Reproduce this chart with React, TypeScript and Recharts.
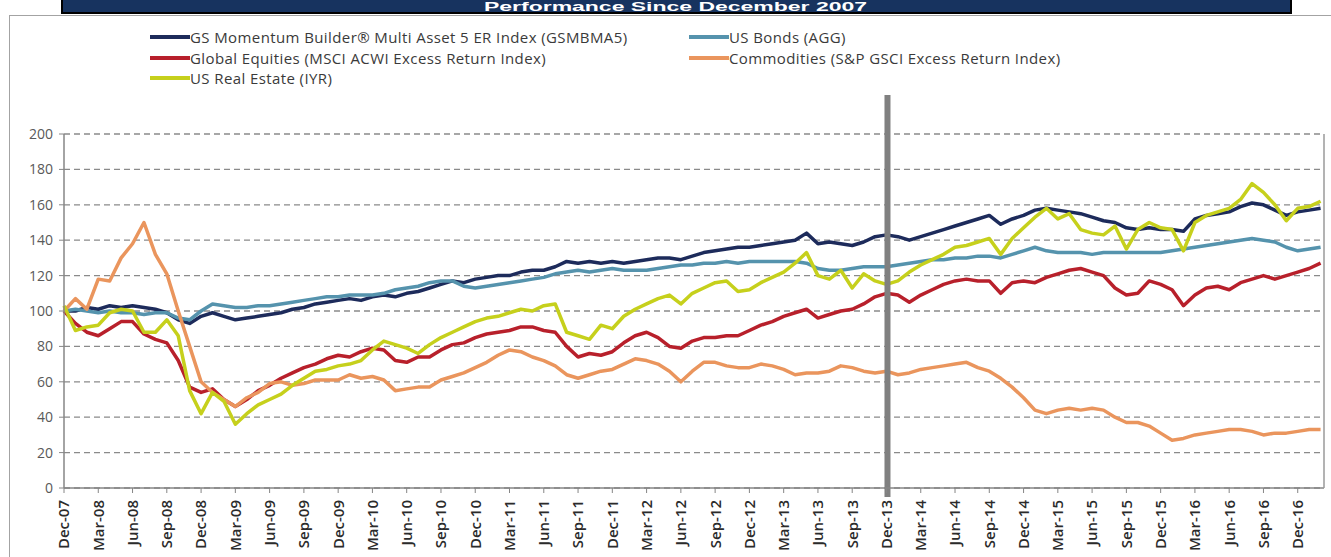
import { CartesianGrid, Legend, Line, LineChart, ReferenceLine, XAxis, YAxis } from 'recharts'

// monthly closes, Dec-07 .. Feb-17 (index = months since Dec-07)
const gsmbma5 = [
  100, 100, 102, 101, 103, 102, 103, 102, 101, 99,
  95, 93, 97, 99, 97, 95, 96, 97, 98, 99,
  101, 102, 104, 105, 106, 107, 106, 108, 109, 108,
  110, 111, 113, 115, 117, 116, 118, 119, 120, 120,
  122, 123, 123, 125, 128, 127, 128, 127, 128, 127,
  128, 129, 130, 130, 129, 131, 133, 134, 135, 136,
  136, 137, 138, 139, 140, 144, 138, 139, 138, 137,
  139, 142, 143, 142, 140, 142, 144, 146, 148, 150,
  152, 154, 149, 152, 154, 157, 158, 157, 156, 155,
  153, 151, 150, 147, 146, 147, 146, 146, 145, 152,
  154, 155, 156, 159, 161, 160, 157, 154, 156, 157, 158,
]

const usBonds = [
  100, 101, 100, 99, 100, 99, 99, 98, 99, 99,
  96, 95, 100, 104, 103, 102, 102, 103, 103, 104,
  105, 106, 107, 108, 108, 109, 109, 109, 110, 112,
  113, 114, 116, 117, 117, 114, 113, 114, 115, 116,
  117, 118, 119, 121, 122, 123, 122, 123, 124, 123,
  123, 123, 124, 125, 126, 126, 127, 127, 128, 127,
  128, 128, 128, 128, 128, 127, 124, 123, 123, 124,
  125, 125, 125, 126, 127, 128, 129, 129, 130, 130,
  131, 131, 130, 132, 134, 136, 134, 133, 133, 133,
  132, 133, 133, 133, 133, 133, 133, 134, 135, 136,
  137, 138, 139, 140, 141, 140, 139, 136, 134, 135, 136,
]

const globalEquities = [
  100, 93, 88, 86, 90, 94, 94, 87, 84, 82,
  72, 57, 54, 56, 50, 46, 50, 55, 58, 62,
  65, 68, 70, 73, 75, 74, 77, 79, 78, 72,
  71, 74, 74, 78, 81, 82, 85, 87, 88, 89,
  91, 91, 89, 88, 80, 74, 76, 75, 77, 82,
  86, 88, 85, 80, 79, 83, 85, 85, 86, 86,
  89, 92, 94, 97, 99, 101, 96, 98, 100, 101,
  104, 108, 110, 109, 105, 109, 112, 115, 117, 118,
  117, 117, 110, 116, 117, 116, 119, 121, 123, 124,
  122, 120, 113, 109, 110, 117, 115, 112, 103, 109,
  113, 114, 112, 116, 118, 120, 118, 120, 122, 124, 127,
]

const commodities = [
  100, 107, 101, 118, 117, 130, 138, 150, 132, 121,
  100, 80, 60, 54, 50, 46, 51, 54, 59, 60,
  58, 59, 61, 61, 61, 64, 62, 63, 61, 55,
  56, 57, 57, 61, 63, 65, 68, 71, 75, 78,
  77, 74, 72, 69, 64, 62, 64, 66, 67, 70,
  73, 72, 70, 66, 60, 66, 71, 71, 69, 68,
  68, 70, 69, 67, 64, 65, 65, 66, 69, 68,
  66, 65, 66, 64, 65, 67, 68, 69, 70, 71,
  68, 66, 62, 57, 51, 44, 42, 44, 45, 44,
  45, 44, 40, 37, 37, 35, 31, 27, 28, 30,
  31, 32, 33, 33, 32, 30, 31, 31, 32, 33, 33,
]

const usRealEstate = [
  103, 89, 91, 92, 99, 101, 100, 88, 88, 95,
  86, 55, 42, 54, 49, 36, 42, 47, 50, 53,
  58, 62, 66, 67, 69, 70, 72, 78, 83, 81,
  79, 76, 81, 85, 88, 91, 94, 96, 97, 99,
  101, 100, 103, 104, 88, 86, 84, 92, 90, 97,
  101, 104, 107, 109, 104, 110, 113, 116, 117, 111,
  112, 116, 119, 122, 127, 133, 120, 118, 123, 113,
  121, 117, 115, 117, 122, 126, 129, 132, 136, 137,
  139, 141, 132, 141, 147, 153, 158, 152, 155, 146,
  144, 143, 148, 135, 146, 150, 147, 146, 134, 150,
  154, 156, 158, 163, 172, 167, 160, 151, 158, 159, 162,
]

const tickLabels = [
  'Dec-07', 'Mar-08', 'Jun-08', 'Sep-08', 'Dec-08', 'Mar-09', 'Jun-09', 'Sep-09',
  'Dec-09', 'Mar-10', 'Jun-10', 'Sep-10', 'Dec-10', 'Mar-11', 'Jun-11', 'Sep-11',
  'Dec-11', 'Mar-12', 'Jun-12', 'Sep-12', 'Dec-12', 'Mar-13', 'Jun-13', 'Sep-13',
  'Dec-13', 'Mar-14', 'Jun-14', 'Sep-14', 'Dec-14', 'Mar-15', 'Jun-15', 'Sep-15',
  'Dec-15', 'Mar-16', 'Jun-16', 'Sep-16', 'Dec-16',
]

const yTicks = [0, 20, 40, 60, 80, 100, 120, 140, 160, 180, 200]

const SERIES = [
  { key: 'gs', name: 'GS Momentum Builder® Multi Asset 5 ER Index (GSMBMA5)', color: '#1d2b5b' },
  { key: 'bonds', name: 'US Bonds (AGG)', color: '#5593ad' },
  { key: 'eq', name: 'Global Equities (MSCI ACWI Excess Return Index)', color: '#b8202b' },
  { key: 'cmd', name: 'Commodities (S&P GSCI Excess Return Index)', color: '#ea955d' },
  { key: 're', name: 'US Real Estate (IYR)', color: '#c6d01c' },
]

const data = gsmbma5.map((v, i) => ({
  m: i,
  gs: v,
  bonds: usBonds[i],
  eq: globalEquities[i],
  cmd: commodities[i],
  re: usRealEstate[i],
}))

const xTicks = tickLabels.map((_, i) => i * 3)
const DIVIDER_MONTH = 72 // Dec-13

function XTick({ x, y, payload }: any) {
  const ty = y + 5
  return (
    <text
      x={x}
      y={ty}
      transform={`rotate(-90 ${x} ${ty})`}
      textAnchor="end"
      dy="0.36em"
      fontSize={15}
      fontWeight={600}
      fill="#2b2b2b"
    >
      {tickLabels[Math.round(payload.value / 3)]}
    </text>
  )
}

function LegendBox() {
  return (
    <div style={{ position: 'relative', width: 1331, height: 100 }}>
      {SERIES.map((s, i) => {
        const left = i % 2 === 0 ? 150 : 689
        const top = 27 + Math.floor(i / 2) * 20.5
        return (
          <div
            key={s.key}
            style={{
              position: 'absolute',
              left,
              top,
              height: 20,
              display: 'flex',
              alignItems: 'center',
              whiteSpace: 'nowrap',
            }}
          >
            <span style={{ display: 'inline-block', width: 40, height: 4, background: s.color }} />
            <span style={{ fontSize: 15, letterSpacing: 0.4, color: '#3a3a3a' }}>{s.name}</span>
          </div>
        )
      })}
    </div>
  )
}

function Divider(p: any) {
  return <rect x={p.x1 - 2} y={95} width={6} height={402} fill="#808080" />
}

export default function App() {
  return (
    <div
      style={{
        position: 'absolute',
        left: 0,
        top: 0,
        width: 1331,
        height: 557,
        overflow: 'hidden',
        background: '#fff',
        fontFamily: '"Open Sans", sans-serif',
      }}
    >
      <div
        style={{
          position: 'absolute',
          left: 9,
          top: 15,
          width: 1400,
          height: 600,
          borderTop: '1.5px solid #a3a3a3',
          borderLeft: '1.5px solid #a3a3a3',
        }}
      />
      <svg width={1331} height={16} style={{ position: 'absolute', left: 0, top: 0 }}>
        <rect x={62} y={-4} width={1229} height={17} fill="#17335f" stroke="#000" strokeWidth={2} />
        <text
          x={484}
          y={11}
          textLength={383}
          lengthAdjust="spacingAndGlyphs"
          fill="#fff"
          fontSize={13}
          fontWeight={700}
          fontFamily='"Liberation Sans", Arial, sans-serif'
        >
          Performance Since December 2007
        </text>
      </svg>
      <div style={{ position: 'absolute', left: 0, top: 0 }}>
        <LineChart width={1331} height={557} data={data} margin={{ top: 134, right: 0, bottom: 9, left: 8 }}>
          <CartesianGrid vertical={false} stroke="#8a8a8a" strokeDasharray="6 4" strokeWidth={1.3} />
          <XAxis
            dataKey="m"
            type="number"
            domain={[0, 110.3]}
            ticks={xTicks}
            interval={0}
            height={60}
            tickSize={5}
            tick={<XTick />}
            tickLine={{ stroke: '#868686' }}
            axisLine={{ stroke: '#868686', strokeWidth: 1.5 }}
          />
          <YAxis
            domain={[0, 200]}
            ticks={yTicks}
            interval={0}
            width={56}
            tickSize={5}
            tickMargin={6}
            tick={{ fill: '#595959', fontSize: 14 }}
            tickLine={{ stroke: '#868686' }}
            axisLine={{ stroke: '#868686', strokeWidth: 1.5 }}
          />
          <YAxis
            yAxisId="r"
            orientation="right"
            domain={[0, 200]}
            width={7}
            tick={false}
            tickLine={false}
            axisLine={{ stroke: '#9a9a9a', strokeWidth: 1.5 }}
          />
          <Legend
            layout="horizontal"
            verticalAlign="middle"
            align="center"
            content={<LegendBox />}
            wrapperStyle={{ position: 'absolute', top: 0, left: 0, width: 1331, height: 100 }}
          />
          {SERIES.map((s) => (
            <Line
              key={s.key}
              type="linear"
              dataKey={s.key}
              name={s.name}
              stroke={s.color}
              strokeWidth={3.5}
              strokeLinejoin="round"
              dot={false}
              activeDot={false}
              isAnimationActive={false}
            />
          ))}
          <ReferenceLine x={DIVIDER_MONTH} ifOverflow="visible" shape={<Divider />} />
        </LineChart>
      </div>
    </div>
  )
}
